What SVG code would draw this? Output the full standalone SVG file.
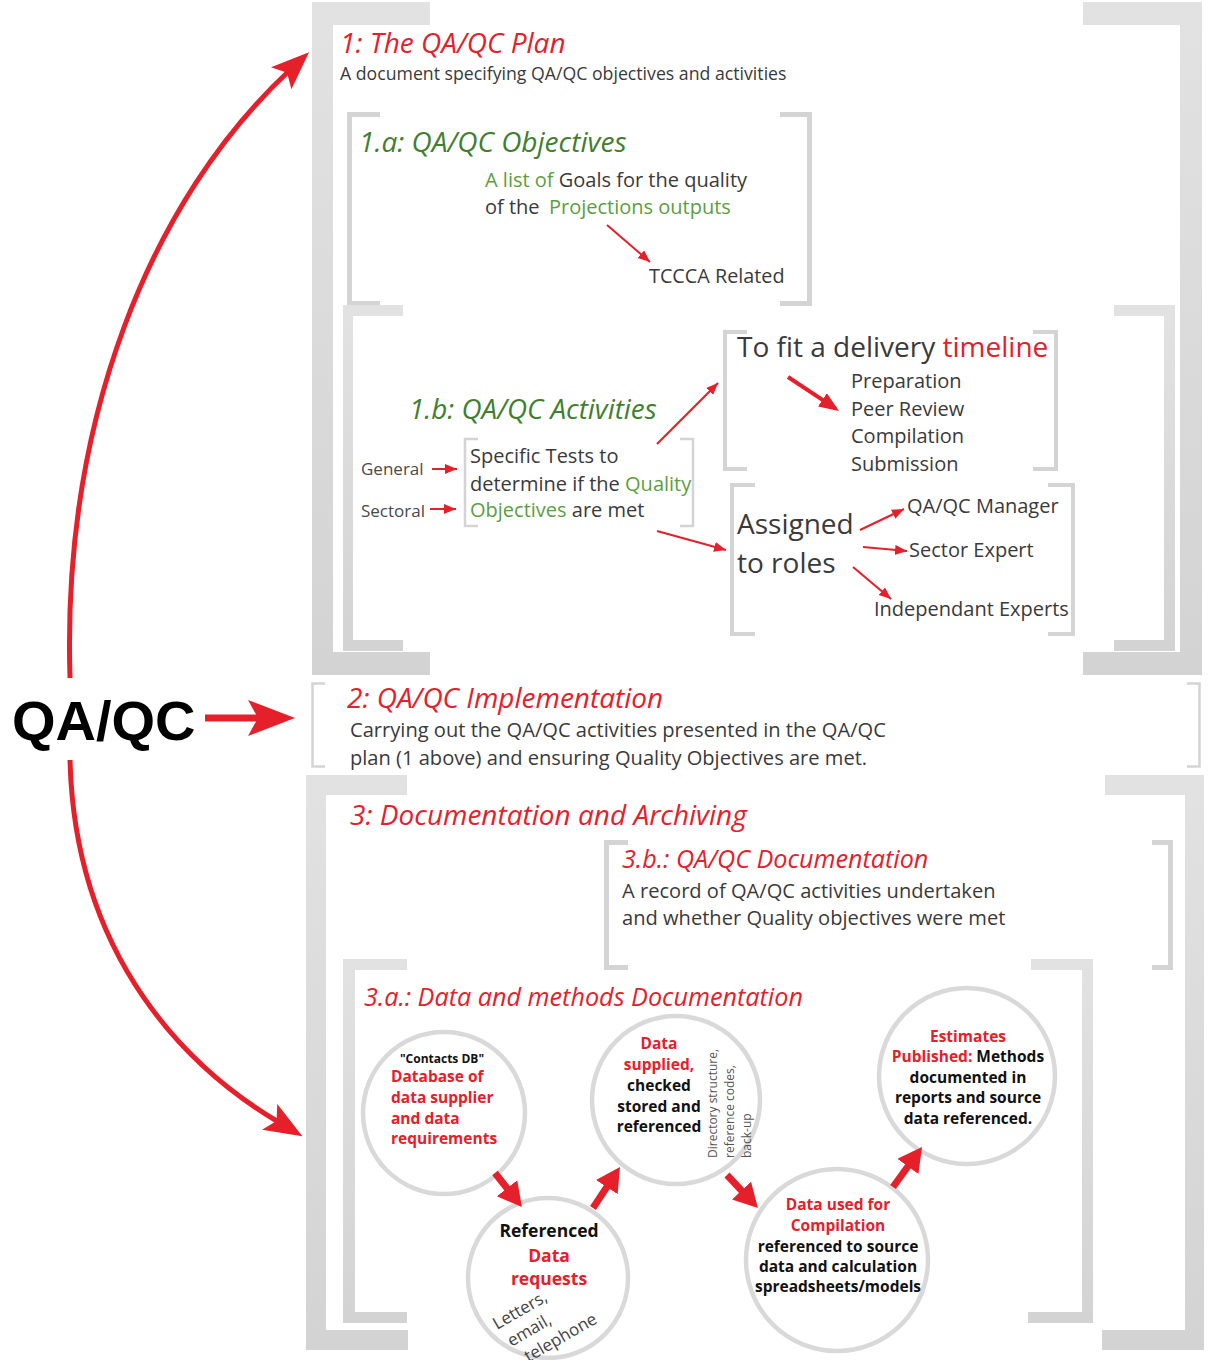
<svg xmlns="http://www.w3.org/2000/svg" width="1208" height="1360" viewBox="0 0 1208 1360">
<defs>
<linearGradient id="gb" x1="0" y1="0" x2="0" y2="1"><stop offset="0" stop-color="#e2e2e2"/><stop offset="1" stop-color="#d3d3d3"/></linearGradient>
<marker id="a" markerUnits="userSpaceOnUse" markerWidth="14" markerHeight="12" refX="12" refY="5" orient="auto"><path d="M0,0 L12,5 L0,10 Z" fill="#e5202a"/></marker>
<marker id="am" markerUnits="userSpaceOnUse" markerWidth="22" markerHeight="18" refX="16" refY="8" orient="auto"><path d="M0,0 L20,8 L0,16 Z" fill="#e5202a"/></marker>
<marker id="ab" markerUnits="userSpaceOnUse" markerWidth="26" markerHeight="28" refX="8" refY="13" orient="auto"><path d="M0,0 L24,13 L0,26 Z" fill="#e5202a"/></marker>
<marker id="ac" markerUnits="userSpaceOnUse" markerWidth="40" markerHeight="32" refX="12" refY="15" orient="auto"><path d="M0,0 L38,15 L0,30 L8,15 Z" fill="#e5202a"/></marker>
<marker id="ad" markerUnits="userSpaceOnUse" markerWidth="50" markerHeight="38" refX="14" refY="18" orient="auto"><path d="M0,0 L47,18 L0,36 L10,18 Z" fill="#e5202a"/></marker>
<style>
text{font-family:"Open Sans","Liberation Sans",sans-serif}
.ob{fill:url(#gb)}
.tb{fill:none;stroke:#d4d4d4;stroke-linecap:butt;stroke-linejoin:miter}
.hd{font-style:italic;fill:#e5202a}
.hg{font-style:italic;fill:#3f7f2f}
.tx{fill:#3a3a3a}
.gl{fill:#5b9e3f}
.rd{fill:#e5202a}
.sm{fill:#4a4a4a;font-size:17px}
.circ{fill:#fff;stroke:#d9d9d9;stroke-width:4.5}
.ct{font-weight:bold;font-size:15.5px;fill:#111}
.ct.rd{fill:#e5202a}
.ln{fill:none;stroke:#e5202a}
</style>
</defs>
<rect width="1208" height="1360" fill="#fff"/>

<g id="plan">
<path class="ob" d="M430,2 H312 V675 H430 V652 H333 V25 H430 Z"/>
<path class="ob" d="M1083,2 H1202 V675 H1083 V652 H1180 V25 H1083 Z"/>
<text x="340" y="53" class="hd" font-size="28">1: The QA/QC Plan</text>
<text x="340" y="80" class="tx" font-size="17.7">A document specifying QA/QC objectives and activities</text>
</g>

<g id="objectives">
<polyline class="tb" stroke-width="5" points="380,114.5 349.5,114.5 349.5,303.5 380,303.5"/>
<polyline class="tb" stroke-width="5" points="780,114.5 809.5,114.5 809.5,303.5 780,303.5"/>
<text x="359" y="152" class="hg" font-size="28">1.a: QA/QC Objectives</text>
<text x="485" y="187" font-size="20" class="tx"><tspan class="gl">A list of</tspan> Goals for the quality</text>
<text x="485" y="214" font-size="20" class="tx">of the <tspan class="gl" x="549">Projections outputs</tspan></text>
<text x="649" y="283" font-size="19.8" class="tx">TCCCA Related</text>
</g>

<g id="activities">
<path class="ob" d="M403,305 H343 V651 H403 V640 H353 V316 H403 Z"/>
<path class="ob" d="M1114,305 H1175 V651 H1114 V640 H1164 V316 H1114 Z"/>
<text x="409" y="419" class="hg" font-size="27.8">1.b: QA/QC Activities</text>
<text x="361" y="475" class="sm">General</text>
<text x="361" y="517" class="sm">Sectoral</text>
</g>

<g id="tests">
<polyline class="tb" stroke-width="2.5" points="478,439 465,439 465,526 478,526"/>
<polyline class="tb" stroke-width="2.5" points="680,439 693,439 693,526 680,526"/>
<text x="470" y="463" font-size="20" class="tx">Specific Tests to</text>
<text x="470" y="491" font-size="20" class="tx">determine if the <tspan class="gl">Quality</tspan></text>
<text x="470" y="517" font-size="20" class="tx"><tspan class="gl">Objectives</tspan> are met</text>
</g>

<g id="timeline">
<polyline class="tb" stroke-width="4" points="747,332 725,332 725,469 747,469"/>
<polyline class="tb" stroke-width="4" points="1033,332 1056,332 1056,469 1033,469"/>
<text x="737" y="357" font-size="28" class="tx">To fit a delivery <tspan class="rd">timeline</tspan></text>
<text x="851" y="388" font-size="20" class="tx">Preparation</text>
<text x="851" y="416" font-size="20" class="tx">Peer Review</text>
<text x="851" y="443" font-size="20" class="tx">Compilation</text>
<text x="851" y="471" font-size="20" class="tx">Submission</text>
</g>

<g id="roles">
<polyline class="tb" stroke-width="4" points="755,485 732,485 732,634 755,634"/>
<polyline class="tb" stroke-width="4" points="1048,485 1073,485 1073,634 1048,634"/>
<text x="737" y="534" font-size="28" class="tx">Assigned</text>
<text x="737" y="573" font-size="28" class="tx">to roles</text>
<text x="907" y="513" font-size="20" class="tx">QA/QC Manager</text>
<text x="909" y="557" font-size="20" class="tx">Sector Expert</text>
<text x="874" y="616" font-size="20" class="tx">Independant Experts</text>
</g>

<g id="implementation">
<polyline class="tb" stroke-width="2.5" points="325,683.5 312.5,683.5 312.5,766.5 325,766.5"/>
<polyline class="tb" stroke-width="2.5" points="1187,683.5 1199.5,683.5 1199.5,766.5 1187,766.5"/>
<text x="347" y="708" class="hd" font-size="28">2: QA/QC Implementation</text>
<text x="350" y="737" font-size="20.1" class="tx">Carrying out the QA/QC activities presented in the QA/QC</text>
<text x="350" y="765" font-size="20.1" class="tx">plan (1 above) and ensuring Quality Objectives are met.</text>
</g>

<g id="documentation">
<path class="ob" d="M407,775 H306 V1350 H408 V1330 H326 V795 H407 Z"/>
<path class="ob" d="M1105,775 H1204 V1350 H1102 V1330 H1185 V795 H1105 Z"/>
<text x="350" y="825" class="hd" font-size="28">3: Documentation and Archiving</text>
</g>

<g id="qadoc">
<polyline class="tb" stroke-width="5" points="628,842.5 606.5,842.5 606.5,967.5 628,967.5"/>
<polyline class="tb" stroke-width="5" points="1152,842.5 1170.5,842.5 1170.5,967.5 1152,967.5"/>
<text x="622" y="868" class="hd" font-size="25.2">3.b.: QA/QC Documentation</text>
<text x="622" y="898" font-size="20.1" class="tx">A record of QA/QC activities undertaken</text>
<text x="622" y="925" font-size="20.1" class="tx">and whether Quality objectives were met</text>
</g>

<g id="datadoc">
<path class="ob" d="M407,959 H343 V1323 H407 V1312 H355 V970 H407 Z"/>
<path class="ob" d="M1031,959 H1093 V1323 H1028 V1312 H1082 V970 H1031 Z"/>
<text x="364" y="1006" class="hd" font-size="25.2">3.a.: Data and methods Documentation</text>
</g>

<g id="c1">
<circle class="circ" cx="444" cy="1113" r="81"/>
<text x="442" y="1063" class="ct" text-anchor="middle" style="font-size:12px">"Contacts DB"</text>
<text class="ct rd" x="391" y="1082">Database of</text>
<text class="ct rd" x="391" y="1103">data supplier</text>
<text class="ct rd" x="391" y="1124">and data</text>
<text class="ct rd" x="391" y="1144">requirements</text>
</g>

<g id="c2">
<circle class="circ" cx="548" cy="1278" r="80"/>
<text class="ct" x="549" y="1237" text-anchor="middle" style="font-size:17.5px">Referenced</text>
<text class="ct rd" x="549" y="1262" text-anchor="middle" style="font-size:17.5px">Data</text>
<text class="ct rd" x="549" y="1285" text-anchor="middle" style="font-size:17.5px">requests</text>
<g transform="translate(497,1330) rotate(-30)" fill="#444" font-size="17">
<text x="0" y="0">Letters,</text>
<text x="4" y="22">email,</text>
<text x="11" y="44">telephone</text>
</g>
</g>

<g id="c3">
<circle class="circ" cx="676" cy="1100" r="84"/>
<text class="ct rd" x="659" y="1049" text-anchor="middle">Data</text>
<text class="ct rd" x="659" y="1070" text-anchor="middle">supplied,</text>
<text class="ct" x="659" y="1091" text-anchor="middle">checked</text>
<text class="ct" x="659" y="1112" text-anchor="middle">stored and</text>
<text class="ct" x="659" y="1132" text-anchor="middle">referenced</text>
<text transform="translate(717,1158) rotate(-90)" font-size="12" fill="#555">Directory structure,</text>
<text transform="translate(734,1158) rotate(-90)" font-size="12" fill="#555">reference codes,</text>
<text transform="translate(751,1158) rotate(-90)" font-size="12" fill="#555">back-up</text>
</g>

<g id="c4">
<circle class="circ" cx="837" cy="1260" r="91"/>
<text class="ct rd" x="838" y="1210" text-anchor="middle">Data used for</text>
<text class="ct rd" x="838" y="1231" text-anchor="middle">Compilation</text>
<text class="ct" x="838" y="1252" text-anchor="middle">referenced to source</text>
<text class="ct" x="838" y="1272" text-anchor="middle">data and calculation</text>
<text class="ct" x="838" y="1292" text-anchor="middle">spreadsheets/models</text>
</g>

<g id="c5">
<circle class="circ" cx="967" cy="1076" r="88"/>
<text class="ct rd" x="968" y="1042" text-anchor="middle">Estimates</text>
<text class="ct" x="968" y="1062" text-anchor="middle"><tspan class="rd">Published:</tspan> Methods</text>
<text class="ct" x="968" y="1083" text-anchor="middle">documented in</text>
<text class="ct" x="968" y="1103" text-anchor="middle">reports and source</text>
<text class="ct" x="968" y="1124" text-anchor="middle">data referenced.</text>
</g>

<g id="qaqc">
<text x="12" y="740" font-weight="bold" font-size="56" fill="#000" style="font-family:'Liberation Sans',Arial,sans-serif">QA/QC</text>
</g>

<g id="connectors">
<path class="ln" stroke-width="5" d="M70,678 C62,420 150,200 290,70" marker-end="url(#ac)"/>
<path class="ln" stroke-width="7" d="M205,718 L262,718" marker-end="url(#ad)"/>
<path class="ln" stroke-width="5" d="M70,760 C75,960 190,1070 280,1123" marker-end="url(#ac)"/>
<path class="ln" stroke-width="2" d="M607,225 L650,262" marker-end="url(#a)"/>
<path class="ln" stroke-width="2" d="M432,469 L457,469" marker-end="url(#a)"/>
<path class="ln" stroke-width="2" d="M430,509 L456,509" marker-end="url(#a)"/>
<path class="ln" stroke-width="2.2" d="M657,444 L718,383" marker-end="url(#a)"/>
<path class="ln" stroke-width="2.2" d="M657,531 L726,550" marker-end="url(#a)"/>
<path class="ln" stroke-width="4" d="M788,377 L835.7,408.7" marker-end="url(#am)"/>
<path class="ln" stroke-width="2" d="M860,530 L904,509" marker-end="url(#a)"/>
<path class="ln" stroke-width="2" d="M863,547 L907,551" marker-end="url(#a)"/>
<path class="ln" stroke-width="2" d="M853,567 L891,599" marker-end="url(#a)"/>
<path class="ln" stroke-width="7" d="M495,1173 L512,1194.5" marker-end="url(#ab)"/>
<path class="ln" stroke-width="7" d="M593,1208 L611.2,1180.4" marker-end="url(#ab)"/>
<path class="ln" stroke-width="7" d="M727,1175 L747,1196.4" marker-end="url(#ab)"/>
<path class="ln" stroke-width="7" d="M893,1187 L912.6,1160" marker-end="url(#ab)"/>
</g>
</svg>
